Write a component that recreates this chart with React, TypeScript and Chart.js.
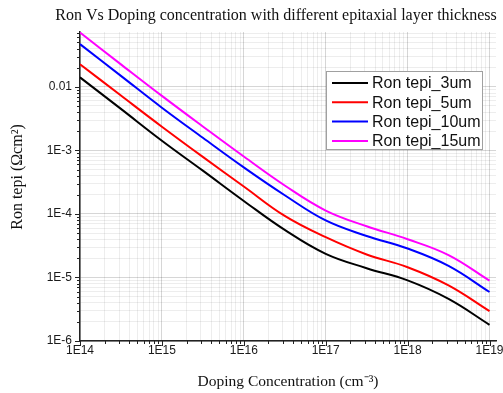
import React, { useEffect, useRef } from "react";
import { Chart, registerables } from "chart.js";

Chart.register(...registerables);

// ---- data ----
const dopingConcentration = [1e14, 3.16e14, 1e15, 3.16e15, 1e16, 3.16e16, 1e17, 3.16e17, 1e18, 3.16e18, 1e19];
const ronTepi3um = [0.0141, 4.5e-3, 1.42e-3, 4.8e-4, 1.6e-4, 5.6e-5, 2.35e-5, 1.4e-5, 9.0e-6, 4.6e-6, 1.8e-6];
const ronTepi5um = [0.0227, 7.3e-3, 2.36e-3, 7.9e-4, 2.7e-4, 9.3e-5, 4.3e-5, 2.3e-5, 1.45e-5, 7.5e-6, 2.95e-6];
const ronTepi10um = [0.047, 0.0149, 4.7e-3, 1.58e-3, 5.4e-4, 1.97e-4, 7.9e-5, 4.5e-5, 2.85e-5, 1.52e-5, 5.9e-6];
const ronTepi15um = [0.0716, 0.0226, 7.2e-3, 2.38e-3, 8.0e-4, 2.8e-4, 1.13e-4, 6.4e-5, 4.0e-5, 2.25e-5, 8.9e-6];

const seriesLabels = ["Ron tepi_3um", "Ron tepi_5um", "Ron tepi_10um", "Ron tepi_15um"];
const seriesColors = ["#000000", "#ff0000", "#0000ff", "#ff00ff"];

const xTickValues = [1e14, 1e15, 1e16, 1e17, 1e18, 1e19];
const xTickLabels = ["1E14", "1E15", "1E16", "1E17", "1E18", "1E19"];
const yTickValues = [1e-6, 1e-5, 1e-4, 1e-3, 1e-2];
const yTickLabels = ["1E-6", "1E-5", "1E-4", "1E-3", "0.01"];

const chartTitle = "Ron Vs Doping concentration with different epitaxial layer thickness";
const xTitle = "Doping Concentration (cm\u207B\u00B3)";
const yTitle = "Ron tepi (\u03A9cm\u00B2)";

const X_MIN = 1e14;
const X_MAX = 1.2e19;
const Y_MIN = 1e-6;
const Y_MAX = 0.073;

function tickKind(v: number): "major" | "minor" | null {
  if (!(v > 0)) return null;
  const e = Math.floor(Math.log10(v) + 1e-9);
  const s = v / Math.pow(10, e);
  const r = Math.round(s);
  if (Math.abs(s - r) > 1e-6) return null;
  if (r === 1 || r === 10) return "major";
  if (r >= 2 && r <= 9) return "minor";
  return null;
}

function labelFor(v: number, values: number[], labels: string[]) {
  for (let i = 0; i < values.length; i++) {
    if (Math.abs(v / values[i] - 1) < 1e-6) return labels[i];
  }
  return "";
}

const serif = "'Liberation Serif', 'Times New Roman', serif";
const sans = "'Liberation Sans', Arial, sans-serif";

const decorPlugin = {
  id: "decor",
  afterDraw(chart: any) {
    const ctx = chart.ctx as CanvasRenderingContext2D;
    const { left, bottom } = chart.chartArea;
    const xs = chart.scales.x;
    const ys = chart.scales.y;
    ctx.save();
    // tick marks
    ctx.strokeStyle = "#222";
    ctx.lineWidth = 1;
    ctx.beginPath();
    xs.ticks.forEach((t: any) => {
      const k = tickKind(t.value);
      if (!k) return;
      const px = Math.round(xs.getPixelForValue(t.value)) + 0.5;
      const len = k === "major" ? 5 : 3;
      ctx.moveTo(px, bottom);
      ctx.lineTo(px, bottom + len);
    });
    ys.ticks.forEach((t: any) => {
      const k = tickKind(t.value);
      if (!k) return;
      const py = Math.round(ys.getPixelForValue(t.value)) + 0.5;
      const len = k === "major" ? 5 : 3;
      ctx.moveTo(left, py);
      ctx.lineTo(left - len, py);
    });
    ctx.stroke();

    // titles
    ctx.fillStyle = "#111";
    ctx.textAlign = "center";
    ctx.textBaseline = "middle";
    ctx.font = `16px ${serif}`;
    ctx.fillText(chartTitle, 276, 16);
    ctx.save();
    ctx.translate(18, 177);
    ctx.rotate(-Math.PI / 2);
    ctx.fillText(yTitle, 0, 0);
    ctx.restore();
    ctx.font = `15.5px ${serif}`;
    ctx.fillText(xTitle, 288, 382);

    // legend
    const bx = 326.5, by = 71.5, bw = 156, bh = 78;
    ctx.fillStyle = "#ffffff";
    ctx.fillRect(bx, by, bw, bh);
    ctx.strokeStyle = "#a0a0a0";
    ctx.lineWidth = 1;
    ctx.strokeRect(bx, by, bw, bh);
    ctx.font = `16px ${sans}`;
    ctx.textAlign = "left";
    chart.data.datasets.forEach((ds: any, i: number) => {
      const cy = 83 + i * 19.3;
      ctx.strokeStyle = ds.borderColor;
      ctx.lineWidth = 2;
      ctx.beginPath();
      ctx.moveTo(332, cy);
      ctx.lineTo(368, cy);
      ctx.stroke();
      ctx.fillStyle = "#111";
      ctx.fillText(ds.label, 372, cy + 1);
    });
    ctx.restore();
  },
};

export default function App() {
  const ref = useRef<HTMLCanvasElement | null>(null);

  useEffect(() => {
    if (!ref.current) return;
    const series = [ronTepi3um, ronTepi5um, ronTepi10um, ronTepi15um];
    const gridColor = (c: any) => {
      const k = tickKind(c.tick?.value);
      if (k === "major") return "rgba(0,0,0,0.16)";
      if (k === "minor") return "rgba(0,0,0,0.07)";
      return "rgba(0,0,0,0)";
    };
    const chart = new Chart(ref.current, {
      type: "line",
      data: {
        datasets: series.map((vals, i) => ({
          label: seriesLabels[i],
          data: vals.map((y, j) => ({ x: dopingConcentration[j], y })),
          borderColor: seriesColors[i],
          backgroundColor: seriesColors[i],
          borderWidth: 2,
          pointRadius: 0,
          tension: 0.4,
          fill: false,
        })),
      },
      options: {
        animation: false,
        responsive: false,
        maintainAspectRatio: false,
        layout: { padding: { left: 0, right: 7, top: 32, bottom: 0 } },
        plugins: {
          legend: { display: false },
          title: { display: false },
          tooltip: { enabled: false },
        },
        scales: {
          x: {
            type: "logarithmic",
            min: X_MIN,
            max: X_MAX,
            afterFit: (s: any) => {
              s.height = 52;
            },
            border: { display: true, color: "#222", width: 1.5 },
            grid: { drawTicks: false, lineWidth: 1, color: gridColor },
            ticks: {
              autoSkip: false,
              maxRotation: 0,
              padding: 2,
              color: "#1a1a1a",
              font: { family: sans, size: 12 },
              callback: (v: any) => labelFor(Number(v), xTickValues, xTickLabels),
            },
          },
          y: {
            type: "logarithmic",
            min: Y_MIN,
            max: Y_MAX,
            afterFit: (s: any) => {
              s.width = 80;
            },
            border: { display: true, color: "#222", width: 1.5 },
            grid: { drawTicks: false, lineWidth: 1, color: gridColor },
            ticks: {
              autoSkip: false,
              padding: 8,
              color: "#1a1a1a",
              font: { family: sans, size: 12 },
              callback: (v: any) => labelFor(Number(v), yTickValues, yTickLabels),
            },
          },
        },
      },
      plugins: [decorPlugin],
    });
    return () => chart.destroy();
  }, []);

  return (
    <div style={{ position: "fixed", left: 0, top: 0, width: 503, height: 393, background: "#fff" }}>
      <canvas ref={ref} width={503} height={393} style={{ width: 503, height: 393, display: "block" }} />
    </div>
  );
}
